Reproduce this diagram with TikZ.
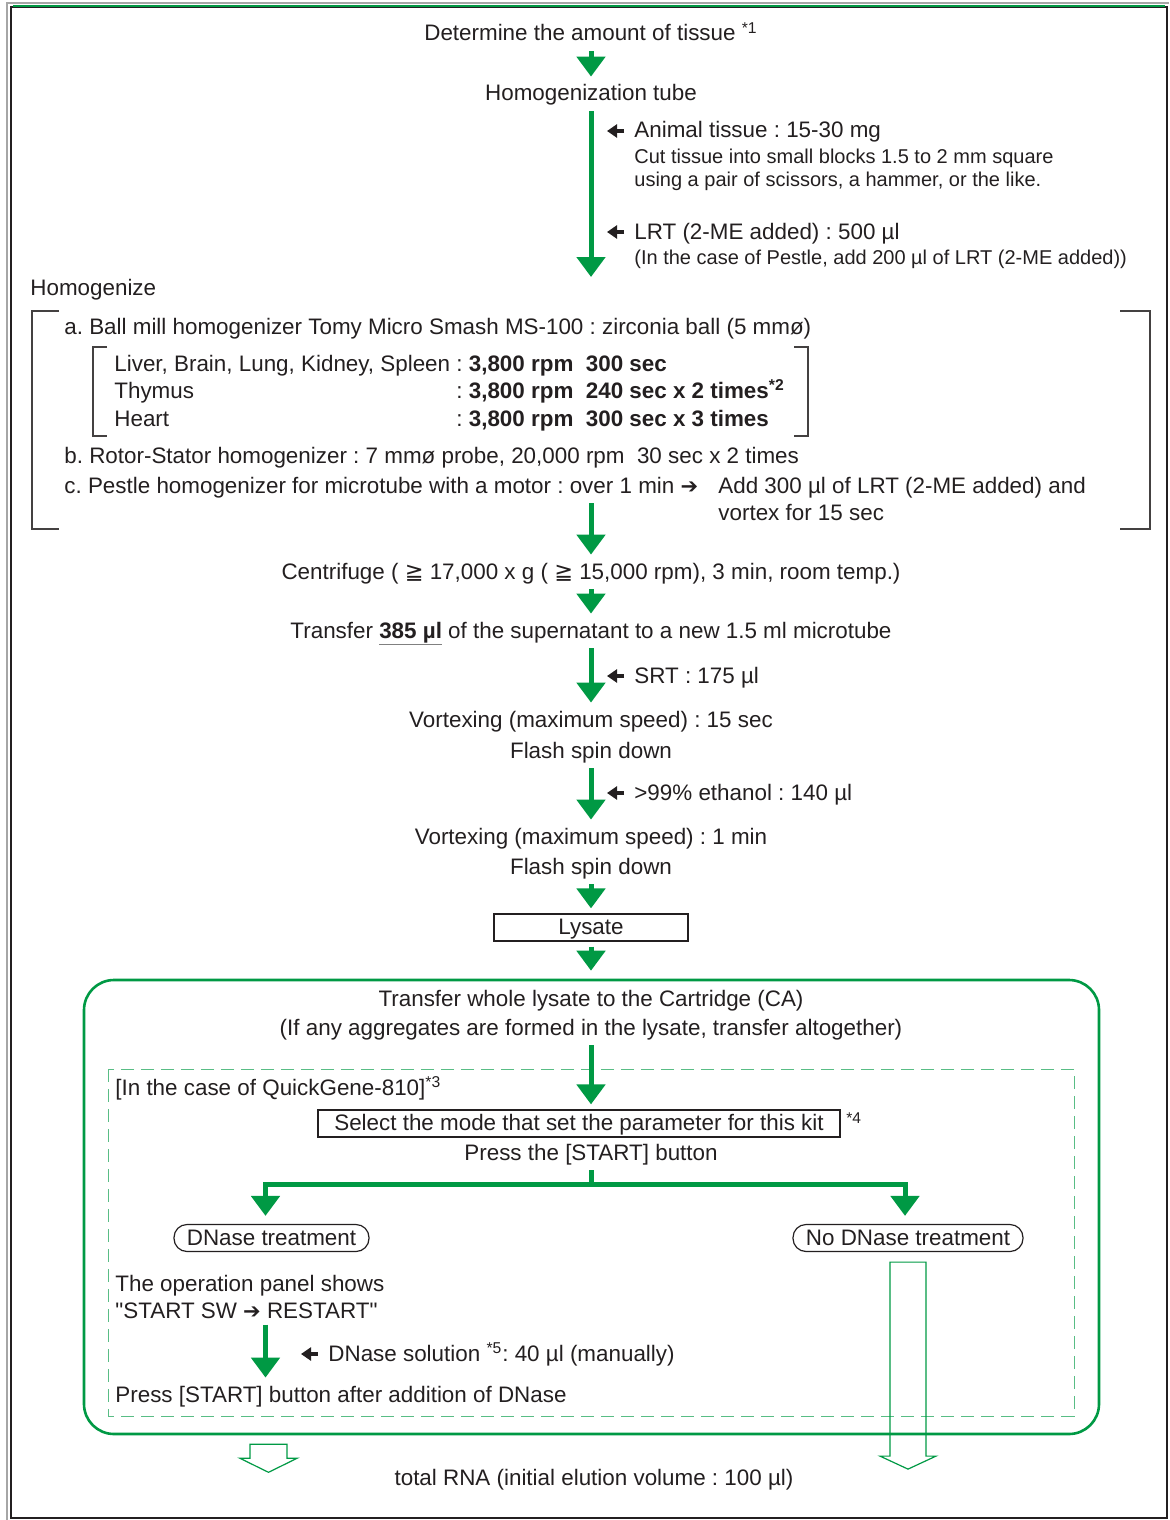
\documentclass[tikz,border=0pt]{standalone}
\usepackage{fontspec}
\setmainfont{Liberation Sans}[Ligatures=TeXOff]
\newfontfamily\symfont{DejaVu Sans}
\usetikzlibrary{arrows.meta}
\frenchspacing

\definecolor{qgreen}{HTML}{009944}
\definecolor{inkgray}{HTML}{231F20}

\newcommand\mainsize{\fontsize{11.2}{13.5}\selectfont}
\newcommand\smallsize{\fontsize{10}{11.5}\selectfont}
\newcommand\rarr{{\symfont\fontsize{10.5}{12}\selectfont ➔}}
\newcommand\geqq{{\symfont ≧}}
\newcommand\grayul[1]{\setbox0\hbox{#1}\rlap{\color{gray}\rule[-3.6pt]{\wd0}{0.6pt}}\box0\relax}

\begin{document}
\begin{tikzpicture}[x=0.5pt, y=-0.5pt,
  txt/.style={font=\mainsize, text=inkgray, text height=9pt, text depth=2pt, inner sep=3pt},
  multi/.style={font=\mainsize, text=inkgray, align=left, inner sep=3pt},
  note/.style={font=\smallsize, text=inkgray, align=left, inner sep=0pt},
  flow/.style={draw=qgreen, line width=2.5pt, -{Triangle[width=14pt,length=10pt]}},
  flowline/.style={draw=qgreen, line width=2.5pt},
  sidearrow/.style={draw=inkgray, line width=2pt, -{Triangle[width=6.5pt,length=5pt]}},
  bracket/.style={draw=inkgray!85, line width=0.6pt},
  boxed/.style={txt, draw=inkgray, line width=0.6pt, inner sep=1pt, minimum height=13.5pt},
  roundbox/.style={boxed, rounded corners=6.5pt},
  hollowarrow/.style={draw=qgreen, line width=0.6pt},
]
\useasboundingbox (0,0) rectangle (1169,1520);

% page frame
\draw[gray!70, line width=0.7pt] (7,1520) -- (7,3) -- (1169,3);
\draw[inkgray, line width=0.7pt] (11,7) rectangle (1167,1518);
\draw[qgreen, line width=0.8pt] (13,6) -- (1165,6);

% tissue and tube
\node[txt] (det) at (591,34) {Determine the amount of tissue \textsuperscript{*1}};
\node[txt] (tube) at (591,94) {Homogenization tube};
\coordinate (tubeend) at (591,277);
\draw[flow] (det) -- (tube);
\draw[flow] (tube) -- (tubeend);

\node[txt, anchor=west] (tissue) at (628,131) {Animal tissue : 15-30 mg};
\node[note, anchor=base west] (cut) at (634,186) {Cut tissue into small blocks 1.5 to 2 mm square\\using a pair of scissors, a hammer, or the like.};
\node[txt, anchor=west] (lrt) at (628,232) {LRT (2-ME added) : 500 µl};
\node[note, anchor=base west] (pestle) at (634,264) {(In the case of Pestle, add 200 µl of LRT (2-ME added))};
\draw[sidearrow] ([xshift=-2pt]tissue.west) -- ++(-17,0);
\draw[sidearrow] ([xshift=-2pt]lrt.west) -- ++(-17,0);

% homogenize block
\node[txt, anchor=west] (homog) at (24,288) {Homogenize};
\draw[bracket] (59,311) -- (32,311) -- (32,529) -- (59,529);
\draw[bracket] (1120,311) -- (1150,311) -- (1150,529) -- (1120,529);
\node[txt, anchor=west] (ballmill) at (58,327) {a. Ball mill homogenizer Tomy Micro Smash MS-100 : zirconia ball (5 mmø)};
\draw[bracket] (107,347) -- (93,347) -- (93,436) -- (107,436);
\draw[bracket] (794,347) -- (808,347) -- (808,436) -- (794,436);
\node[txt, anchor=west] (liver) at (108,364) {Liver, Brain, Lung, Kidney, Spleen};
\node[txt, anchor=west] (thymus) at (108,391) {Thymus};
\node[txt, anchor=west] (heart) at (108,419) {Heart};
\node[txt, anchor=west] (liverset) at (450,364) {: \textbf{3,800 rpm\ \ 300 sec}};
\node[txt, anchor=west] (thymusset) at (450,391) {: \textbf{3,800 rpm\ \ 240 sec x 2 times\textsuperscript{*2}}};
\node[txt, anchor=west] (heartset) at (450,419) {: \textbf{3,800 rpm\ \ 300 sec x 3 times}};
\node[txt, anchor=west] (rotor) at (58,456) {b. Rotor-Stator homogenizer : 7 mmø probe, 20,000 rpm\ \ 30 sec x 2 times};
\node[txt, anchor=west] (pestlehom) at (58,486) {c. Pestle homogenizer for microtube with a motor : over 1 min \rarr};
\node[multi, anchor=base west] (addlrt) at (712,520) {Add 300 µl of LRT (2-ME added) and\\vortex for 15 sec};

% centrifuge and mixing
\coordinate (homend) at (591,503);
\node[txt] (centri) at (591,572) {Centrifuge ( \geqq\ 17,000 x g ( \geqq\ 15,000 rpm), 3 min, room temp.)};
\node[txt] (super) at (591,631) {Transfer \grayul{\textbf{385 µl}} of the supernatant to a new 1.5 ml microtube};
\node[txt] (vort1) at (591,720) {Vortexing (maximum speed) : 15 sec};
\node[txt] (spin1) at (591,751) {Flash spin down};
\node[txt] (vort2) at (591,837) {Vortexing (maximum speed) : 1 min};
\node[txt] (spin2) at (591,867) {Flash spin down};
\node[boxed, minimum width=97pt] (lysate) at (591,927.5) {Lysate};
\draw[flow] (homend) -- (centri);
\draw[flow] (centri) -- (super);
\draw[flow] (super) -- (vort1);
\draw[flow] (spin1) -- (vort2);
\draw[flow, shorten >=2.5pt] (spin2) -- (lysate);

\node[txt, anchor=west] (srt) at (628,676) {SRT : 175 µl};
\node[txt, anchor=west] (ethanol) at (628,793) {>99\% ethanol : 140 µl};
\draw[sidearrow] ([xshift=-2pt]srt.west) -- ++(-17,0);
\draw[sidearrow] ([xshift=-2pt]ethanol.west) -- ++(-17,0);

% cartridge
\node[draw=qgreen, line width=1.3pt, rounded corners=15pt, minimum width=507.5pt, minimum height=227pt, inner sep=0pt] (cart) at (591.5,1207) {};
\draw[flow, shorten <=2.5pt, shorten >=4pt] (lysate) -- (lysate |- cart.north);
\node[txt] (whole) at (591,999) {Transfer whole lysate to the Cartridge (CA)};
\node[txt] (aggr) at (591,1028) {(If any aggregates are formed in the lysate, transfer altogether)};

% QuickGene-810
\draw[qgreen!65, line width=0.5pt, dash pattern=on 6.5pt off 3.5pt] (108,1069) rectangle (1074,1416);
\node[txt, anchor=west] (qg) at (109,1088) {[In the case of QuickGene-810]\textsuperscript{*3}};
\node[boxed, minimum width=261pt] (mode) at (579,1123.5) {Select the mode that set the parameter for this kit};
\node[anchor=west, inner sep=0pt, text=inkgray, font=\fontsize{7.8}{9}\selectfont] (fn4) at (846,1118) {*4};
\node[txt] (press) at (591,1153) {Press the [START] button};
\draw[flow, shorten >=2.5pt] (aggr) -- (aggr |- mode.north);

\node[roundbox, minimum width=97.5pt] (dnase) at (271.5,1238) {DNase treatment};
\node[roundbox, minimum width=115pt] (nodnase) at (908,1238) {No DNase treatment};
\draw[flowline] (press.south) -- ++(0,14) coordinate (fork);
\draw[flow, shorten >=4pt] (fork) -| ([xshift=-3pt]dnase.north);
\draw[flow, shorten >=4pt] (fork) -| ([xshift=-1.5pt]nodnase.north);

\node[multi, anchor=base west] (panel) at (109,1318) {The operation panel shows\\"START SW \rarr\ RESTART"};
\node[txt, anchor=west] (pressdn) at (109,1395) {Press [START] button after addition of DNase};
\node[txt, anchor=west] (dnsol) at (322,1354) {DNase solution \textsuperscript{*5}: 40 µl (manually)};
\coordinate (dncol) at ([xshift=-3pt]dnase.south);
\draw[flow] (panel.south -| dncol) -- (pressdn.north -| dncol);
\draw[sidearrow] ([xshift=-2pt]dnsol.west) -- ++(-17,0);

% elution
\node[txt] (rna) at (594,1478) {total RNA (initial elution volume : 100 µl)};
\draw[hollowarrow] ([xshift=-1.5pt, yshift=-4.5pt]cart.south -| dnase.south) ++(-18.5,0) -- ++(0,14) -- ++(-10,0) -- ++(28.5,14) -- ++(28.5,-14) -- ++(-10,0) -- ++(0,-14) -- cycle;
\draw[hollowarrow] ([yshift=-5pt]nodnase.south) ++(-18,0) -- ++(0,194) -- ++(-10,0) -- ++(28,13) -- ++(28,-13) -- ++(-10,0) -- ++(0,-194) -- cycle;
\end{tikzpicture}
\end{document}
